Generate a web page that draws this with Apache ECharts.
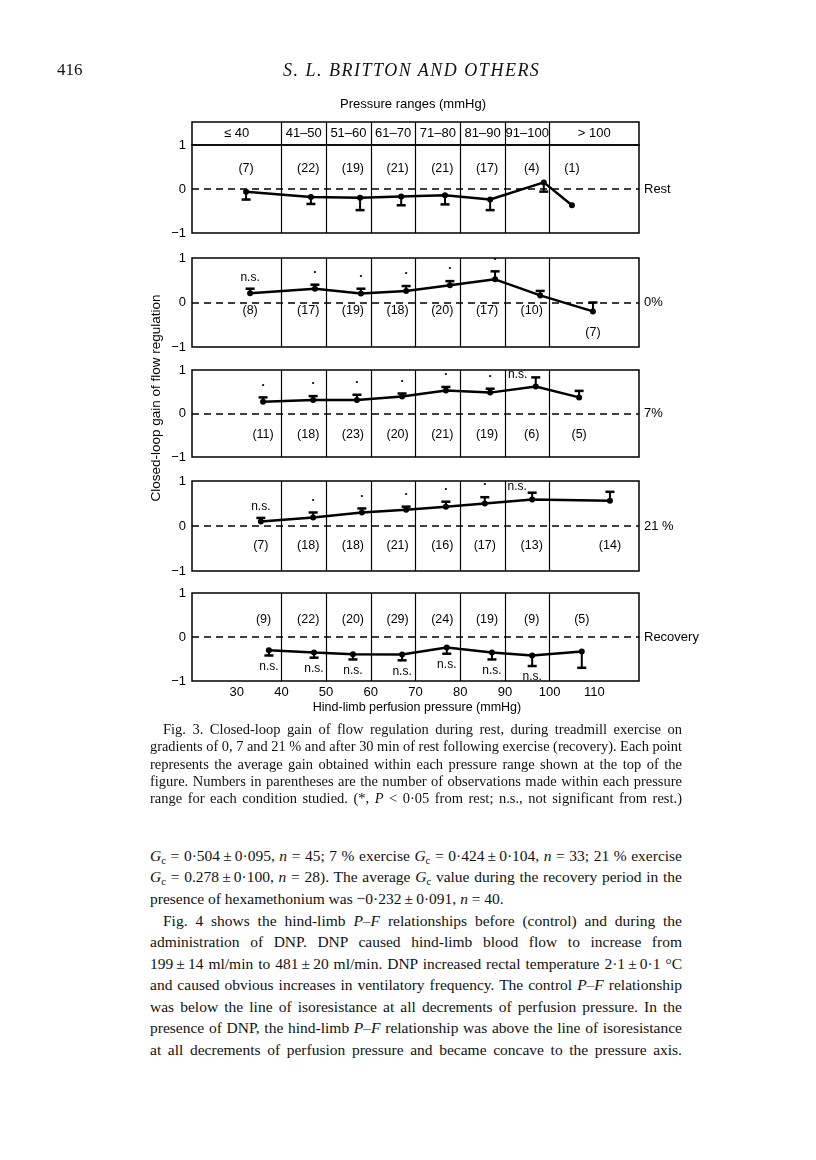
<!DOCTYPE html>
<html>
<head>
<meta charset="utf-8">
<script src="https://cdn.jsdelivr.net/npm/echarts@6/dist/echarts.min.js"></script>
<style>
body { margin: 0; background: #fff; }
#page { position: relative; width: 816px; height: 1160px; overflow: hidden; }
#chart { position: absolute; left: 0; top: 0; width: 816px; height: 730px; }
.ln { position: absolute; white-space: nowrap; font-family: "Liberation Serif", serif; color: #111; }
.ln.just { text-align: justify; text-align-last: justify; }
.ln sub { font-size: 0.7em; vertical-align: -0.25em; line-height: 0; }
</style>
</head>
<body>
<div id="page">
  <div id="chart"></div>
</div>
<script>
// x axis and pressure ranges
const xMin = 20
const xMax = 120
const rangeEdges = [40, 50, 60, 70, 80, 90, 100]
const rangeLabels = ['≤ 40', '41–50', '51–60', '61–70', '71–80', '81–90', '91–100', '> 100']
const rangeCenters = [30, 45, 55, 65, 75, 85, 95, 110]

// Rest
const restP = [32.1, 46.6, 57.6, 66.8, 76.6, 86.7, 98.7, 105.0]
const restG = [-0.06, -0.18, -0.20, -0.17, -0.14, -0.24, 0.15, -0.37]
const restE = [0.18, 0.16, 0.28, 0.20, 0.21, 0.24, 0.21, 0]
const restN = [7, 22, 19, 21, 21, 17, 4, 1]
const restS = ['', '', '', '', '', '', '', '']

// 0 % gradient
const ex0P = [33.0, 47.5, 57.8, 67.9, 77.7, 87.8, 97.9, 109.7]
const ex0G = [0.21, 0.31, 0.20, 0.26, 0.39, 0.52, 0.16, -0.20]
const ex0E = [0.10, 0.09, 0.11, 0.11, 0.09, 0.18, 0.10, 0.20]
const ex0N = [8, 17, 19, 18, 20, 17, 10, 7]
const ex0S = ['n.s.', '•', '•', '•', '•', '•', '', '']

// 7 % gradient
const ex7P = [35.9, 47.1, 56.9, 67.0, 76.8, 86.7, 96.9, 106.6]
const ex7G = [0.27, 0.31, 0.31, 0.39, 0.53, 0.48, 0.62, 0.37]
const ex7E = [0.10, 0.09, 0.12, 0.07, 0.08, 0.09, 0.21, 0.15]
const ex7N = [11, 18, 23, 20, 21, 19, 6, 5]
const ex7S = ['•', '•', '•', '•', '•', '•', 'n.s.', '']

// 21 % gradient
const ex21P = [35.4, 47.1, 58.0, 67.9, 76.8, 85.5, 96.1, 113.5]
const ex21G = [0.10, 0.19, 0.30, 0.36, 0.43, 0.50, 0.59, 0.56]
const ex21E = [0.08, 0.11, 0.09, 0.07, 0.11, 0.14, 0.15, 0.20]
const ex21N = [7, 18, 18, 21, 16, 17, 13, 14]
const ex21S = ['n.s.', '•', '•', '•', '•', '•', 'n.s.', '']

// Recovery
const recP = [37.2, 47.3, 56.0, 67.0, 77.0, 87.1, 96.1, 107.2]
const recG = [-0.30, -0.35, -0.39, -0.40, -0.24, -0.35, -0.42, -0.33]
const recE = [0.12, 0.12, 0.12, 0.13, 0.14, 0.16, 0.24, 0.37]
const recN = [9, 22, 20, 29, 24, 19, 9, 5]
const recS = ['n.s.', 'n.s.', 'n.s.', 'n.s.', 'n.s.', 'n.s.', 'n.s.', '']

// 面板布局
const panels = [
  { name: 'Rest', p: restP, g: restG, e: restE, n: restN, s: restS, dir: -1, top: 145, height: 88, countY: [0.47, 0.47, 0.47, 0.47, 0.47, 0.47, 0.47, 0.47] },
  { name: '0%', p: ex0P, g: ex0G, e: ex0E, n: ex0N, s: ex0S, dir: 1, top: 258, height: 89, countY: [-0.18, -0.18, -0.18, -0.18, -0.18, -0.18, -0.18, -0.68] },
  { name: '7%', p: ex7P, g: ex7G, e: ex7E, n: ex7N, s: ex7S, dir: 1, top: 370, height: 87, countY: [-0.48, -0.48, -0.48, -0.48, -0.48, -0.48, -0.48, -0.48], nudge: { 6: [-18, 8] } },
  { name: '21 %', p: ex21P, g: ex21G, e: ex21E, n: ex21N, s: ex21S, dir: 1, top: 481, height: 90, countY: [-0.44, -0.44, -0.44, -0.44, -0.44, -0.44, -0.44, -0.44], nudge: { 6: [-15, 5] } },
  { name: 'Recovery', p: recP, g: recG, e: recE, n: recN, s: recS, dir: -1, top: 593, height: 88, countY: [0.4, 0.4, 0.4, 0.4, 0.4, 0.4, 0.4, 0.4] }
]

const FONT = '"Liberation Sans", Arial, sans-serif'
const gridLeft = 192
const gridWidth = 447

// 计数标签放在所属压力区间内，靠近数据点
const countX = (x, i) => {
  const lo = i === 0 ? xMin : rangeEdges[i - 1]
  const hi = i === rangeEdges.length ? xMax : rangeEdges[i]
  return Math.min(Math.max(x, lo + 3), hi - 4)
}

// 纯文字标签（用自定义系列保证颜色为纯黑）
const textSeries = (gi, data, texts, size) => ({
  type: 'custom',
  xAxisIndex: gi,
  yAxisIndex: gi,
  silent: true,
  z: 7,
  data: data,
  renderItem: (params, api) => {
    const c = api.coord([api.value(0), api.value(1)])
    return {
      type: 'text',
      x: c[0],
      y: c[1],
      style: { text: texts[params.dataIndex], fill: '#000', font: size + 'px ' + FONT, align: 'center', verticalAlign: 'middle' }
    }
  }
})

const grids = [{ left: gridLeft, width: gridWidth, top: 122, height: 23, show: true, borderColor: '#000', borderWidth: 1.5, backgroundColor: 'transparent' }]
const xAxes = [{ type: 'value', gridIndex: 0, min: xMin, max: xMax, show: false }]
const yAxes = [{ type: 'value', gridIndex: 0, min: 0, max: 1, show: false }]
const series = []

// header row with pressure ranges
series.push(textSeries(0, rangeCenters.map(c => [c, 0.5]), rangeLabels, 13))
series.push({
  type: 'line',
  xAxisIndex: 0,
  yAxisIndex: 0,
  data: [],
  silent: true,
  markLine: {
    symbol: ['none', 'none'],
    silent: true,
    label: { show: false },
    lineStyle: { type: 'solid', color: '#000', width: 1.2 },
    data: rangeEdges.map(e => ({ xAxis: e }))
  }
})

panels.forEach((pn, k) => {
  const gi = k + 1
  const last = k === panels.length - 1
  grids.push({ left: gridLeft, width: gridWidth, top: pn.top, height: pn.height, show: true, borderColor: '#000', borderWidth: 1.5, backgroundColor: 'transparent' })
  xAxes.push({
    type: 'value',
    gridIndex: gi,
    min: xMin,
    max: xMax,
    interval: 10,
    axisLine: { show: false },
    axisTick: { show: false },
    splitLine: { show: false },
    axisLabel: {
      show: last,
      color: '#000',
      fontSize: 13,
      fontFamily: FONT,
      margin: 5,
      formatter: v => (v === xMin || v === xMax ? '' : String(v))
    }
  })
  yAxes.push({
    type: 'value',
    gridIndex: gi,
    min: -1,
    max: 1,
    interval: 1,
    axisLine: { show: false },
    axisTick: { show: false },
    splitLine: { show: false },
    axisLabel: {
      color: '#000',
      fontSize: 13,
      fontFamily: FONT,
      margin: 6,
      formatter: v => (v < 0 ? '−' + Math.abs(v) : String(v))
    }
  })

  // 平均值连线
  series.push({
    type: 'line',
    xAxisIndex: gi,
    yAxisIndex: gi,
    data: pn.p.map((x, i) => [x, pn.g[i]]),
    symbol: 'circle',
    symbolSize: 6,
    lineStyle: { color: '#000', width: 2.5 },
    itemStyle: { color: '#000' },
    z: 5,
    silent: true,
    markLine: {
      symbol: ['none', 'none'],
      silent: true,
      data: [
        {
          yAxis: 0,
          lineStyle: { type: [7, 5], width: 1.5, color: '#000' },
          label: { show: true, position: 'end', formatter: pn.name, color: '#000', fontSize: 13, fontFamily: FONT, distance: 5 }
        },
        ...rangeEdges.map(e => ({
          xAxis: e,
          lineStyle: { type: 'solid', width: 1.2, color: '#000' },
          label: { show: false }
        }))
      ]
    }
  })

  // 误差棒和显著性标记
  series.push({
    type: 'custom',
    xAxisIndex: gi,
    yAxisIndex: gi,
    z: 6,
    silent: true,
    data: pn.p.map((x, i) => [x, pn.g[i], pn.g[i] + pn.dir * pn.e[i]]),
    renderItem: (params, api) => {
      const i = params.dataIndex
      const a = api.coord([api.value(0), api.value(1)])
      const b = api.coord([api.value(0), api.value(2)])
      const kids = []
      if (pn.e[i] > 0) {
        kids.push({ type: 'line', shape: { x1: a[0], y1: a[1], x2: b[0], y2: b[1] }, style: { stroke: '#000', lineWidth: 2 } })
        kids.push({ type: 'line', shape: { x1: b[0] - 4.5, y1: b[1], x2: b[0] + 4.5, y2: b[1] }, style: { stroke: '#000', lineWidth: 2.5 } })
      }
      const s = pn.s[i]
      if (s) {
        const nd = (pn.nudge && pn.nudge[i]) || [0, 0]
        const gap = s === 'n.s.' ? 11 : 13
        kids.push({
          type: 'text',
          x: b[0] + nd[0],
          y: b[1] - pn.dir * gap + nd[1],
          style: {
            text: s,
            fill: '#000',
            font: (s === 'n.s.' ? '12px ' : '8px ') + FONT,
            align: 'center',
            verticalAlign: 'middle'
          }
        })
      }
      return { type: 'group', children: kids }
    }
  })

  // 观察次数
  series.push(textSeries(gi, pn.p.map((x, i) => [countX(x, i), pn.countY[i]]), pn.n.map(v => '(' + v + ')'), 12.5))
})

const chart = echarts.init(document.getElementById('chart'), null, { renderer: 'canvas' })
chart.setOption({
  animation: false,
  backgroundColor: 'transparent',
  textStyle: { fontFamily: FONT, color: '#000' },
  grid: grids,
  xAxis: xAxes,
  yAxis: yAxes,
  series: series,
  graphic: [
    { type: 'text', x: 413, y: 104, style: { text: 'Pressure ranges (mmHg)', font: '13px ' + FONT, fill: '#000', align: 'center', verticalAlign: 'middle' } },
    { type: 'text', x: 156, y: 398, rotation: Math.PI / 2, style: { text: 'Closed-loop gain of flow regulation', font: '13.5px ' + FONT, fill: '#000', align: 'center', verticalAlign: 'middle' } },
    { type: 'text', x: 417, y: 708, style: { text: 'Hind-limb perfusion pressure (mmHg)', font: '12.5px ' + FONT, fill: '#000', align: 'center', verticalAlign: 'middle' } }
  ]
})

// 页面文字
const Gc = '<i>G</i><sub>c</sub>'
const pm = '\u2009±\u2009'
const pageLines = [
  { html: '416', left: 57, y: 70, size: 17 },
  { html: '<i>S. L. BRITTON AND OTHERS</i>', left: 283, y: 70, size: 18, ls: 1.5 },
  { html: 'Fig. 3. Closed-loop gain of flow regulation during rest, during treadmill exercise on', left: 163, y: 729, size: 14.5, w: 519 },
  { html: 'gradients of 0, 7 and 21 % and after 30 min of rest following exercise (recovery). Each point', left: 150, y: 746, size: 14.5, w: 532 },
  { html: 'represents the average gain obtained within each pressure range shown at the top of the', left: 150, y: 764, size: 14.5, w: 532 },
  { html: 'figure. Numbers in parentheses are the number of observations made within each pressure', left: 150, y: 781, size: 14.5, w: 532 },
  { html: 'range for each condition studied. (*, <i>P</i> &lt; 0·05 from rest; n.s., not significant from rest.)', left: 150, y: 798, size: 14.5, w: 532 },
  { html: Gc + ' = 0·504' + pm + '0·095, <i>n</i> = 45; 7 % exercise ' + Gc + ' = 0·424' + pm + '0·104, <i>n</i> = 33; 21 % exercise', left: 150, y: 856, size: 15.5, w: 532 },
  { html: Gc + ' = 0.278' + pm + '0·100, <i>n</i> = 28). The average ' + Gc + ' value during the recovery period in the', left: 150, y: 877, size: 15.5, w: 532 },
  { html: 'presence of hexamethonium was −0·232' + pm + '0·091, <i>n</i> = 40.', left: 150, y: 899, size: 15.5 },
  { html: 'Fig. 4 shows the hind-limb <i>P–F</i> relationships before (control) and during the', left: 163, y: 921, size: 15.5, w: 519 },
  { html: 'administration of DNP. DNP caused hind-limb blood flow to increase from', left: 150, y: 942, size: 15.5, w: 532 },
  { html: '199' + pm + '14 ml/min to 481' + pm + '20 ml/min. DNP increased rectal temperature 2·1' + pm + '0·1 °C', left: 150, y: 964, size: 15.5, w: 532 },
  { html: 'and caused obvious increases in ventilatory frequency. The control <i>P–F</i> relationship', left: 150, y: 985, size: 15.5, w: 532 },
  { html: 'was below the line of isoresistance at all decrements of perfusion pressure. In the', left: 150, y: 1007, size: 15.5, w: 532 },
  { html: 'presence of DNP, the hind-limb <i>P–F</i> relationship was above the line of isoresistance', left: 150, y: 1028, size: 15.5, w: 532 },
  { html: 'at all decrements of perfusion pressure and became concave to the pressure axis.', left: 150, y: 1050, size: 15.5, w: 532 }
]

const page = document.getElementById('page')
pageLines.forEach(l => {
  const el = document.createElement('div')
  el.className = 'ln'
  el.style.left = l.left + 'px'
  el.style.top = (l.y - 10) + 'px'
  el.style.lineHeight = '20px'
  el.style.fontSize = l.size + 'px'
  if (l.ls) el.style.letterSpacing = l.ls + 'px'
  el.innerHTML = '<span>' + l.html + '</span>'
  page.appendChild(el)
  if (!l.w) return
  const nat = el.firstChild.getBoundingClientRect().width
  if (nat > l.w) {
    el.style.transformOrigin = '0 0'
    el.style.transform = 'scaleX(' + (l.w / nat) + ')'
  } else {
    el.style.width = l.w + 'px'
    el.classList.add('just')
  }
})
</script>
</body>
</html>
